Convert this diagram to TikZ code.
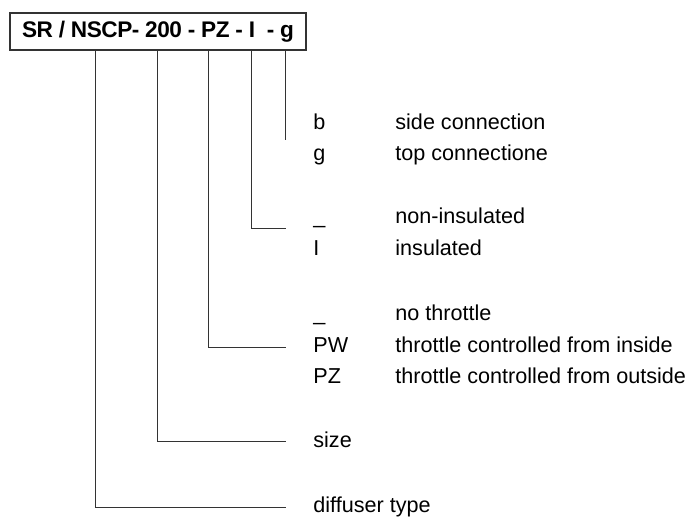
\documentclass[tikz,border=0pt]{standalone}
\usepackage{fontspec}
\setmainfont{Liberation Sans}
\usetikzlibrary{positioning,calc}

\tikzset{
    key/.style={anchor=base west, inner sep=0pt},
    link/.style={draw=black!80, line width=0.5pt},
}

\begin{document}
\begin{tikzpicture}[x=0.5pt, y=-0.5pt, font=\fontsize{10.8}{13}\selectfont]
    \useasboundingbox (0,0) rectangle (692,516);

    % Type code
    \node[draw=black!80, line width=0.6pt, minimum width=148pt, minimum height=18.5pt, inner sep=0pt,
          font=\fontsize{11.3}{13}\selectfont\bfseries\addfontfeature{LetterSpace=-2}] (code) at (158,31.5)
          {SR / NSCP- 200 - PZ - I\ \ - g};

    % Connection
    \node[key] (b) at (313,129) {b};
    \node[key] (bdesc) at (395,129) {side connection};
    \node[key] (g) at (313,160) {g};
    \node[key] (gdesc) at (395,160) {top connectione};

    % Insulation
    \node[key] (noins) at (313,223) {\_};
    \node[key] (noinsdesc) at (395,223) {non-insulated};
    \node[key] (ins) at (313,255) {I};
    \node[key] (insdesc) at (395,255) {insulated};

    % Throttle
    \node[key] (nothr) at (313,320) {\_};
    \node[key] (nothrdesc) at (395,320) {no throttle};
    \node[key] (pw) at (313,352) {PW};
    \node[key] (pwdesc) at (395,352) {throttle controlled from inside};
    \node[key] (pz) at (313,383) {PZ};
    \node[key] (pzdesc) at (395,383) {throttle controlled from outside};

    % Size and type
    \node[key] (size) at (313,447) {size};
    \node[key] (dtype) at (313,512) {diffuser type};

    % Leader lines
    \draw[link] (code.south -| 285,0) -- ($(code.south -| 285,0)+(0,89)$);
    \draw[link] (code.south -| 251,0) |- ([xshift=-13.5pt, yshift=-2.5pt]noins.base west);
    \draw[link] (code.south -| 208,0) |- ([xshift=-13.5pt, yshift=2.5pt]pw.base west);
    \draw[link] (code.south -| 157,0) |- ([xshift=-13.5pt, yshift=2.6pt]size.base west);
    \draw[link] (code.south -| 95,0) |- ([xshift=-13.5pt, yshift=2.5pt]dtype.base west);
\end{tikzpicture}
\end{document}
